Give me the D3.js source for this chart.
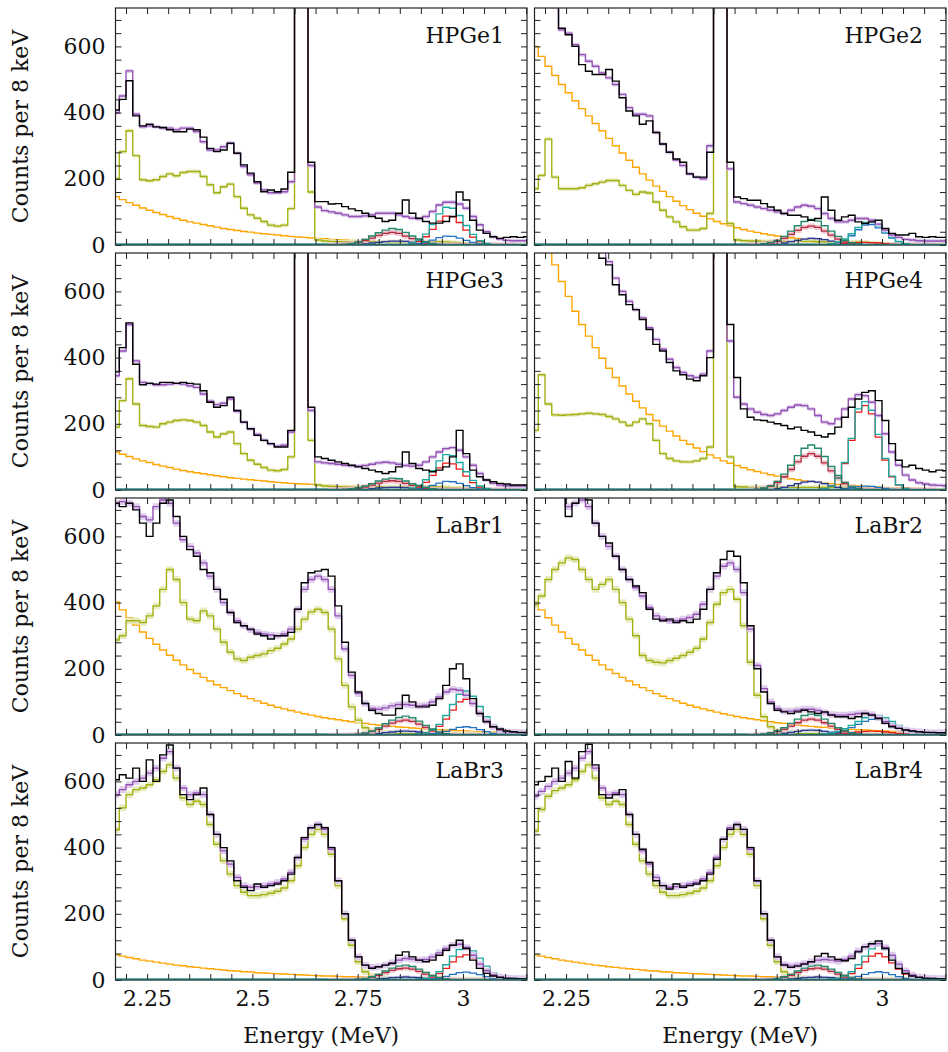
<!DOCTYPE html>
<html><head><meta charset="utf-8">
<script src="https://cdn.jsdelivr.net/npm/d3@7"></script>
<style>body{margin:0;background:#fff}text{font-family:"DejaVu Serif",serif}</style>
</head><body><svg id="c" width="948" height="1052"></svg>
<script>
// ---- grid ----
const binStart = 2.168, binWidth = 0.016, nBins = 62;
const peakStartBin = 32;            // peak-component arrays start at this bin (28 bins)
const xDomain = [2.175, 3.152];
const yDomain = [0, 716];
const xTickValues = [2.25, 2.5, 2.75, 3];
const xTickLabels = ["2.25", "2.5", "2.75", "3"];
const yTickValues = [0, 200, 400, 600];
const panelNames = ["HPGe1","HPGe2","HPGe3","HPGe4","LaBr1","LaBr2","LaBr3","LaBr4"];
const CLIP = 2000; // bins above the plotted range

// ---- HPGe1 ----
const hpge1_data = [408,440,496,390,360,365,357,355,348,342, 342,350,348,326,292,282,287,307,277,242, 217,191,161,166,161,169,220,CLIP,CLIP,250, 131,131,124,125,116,109,104,96,86,81, 71,75,96,136,96,81,71,66,66,71, 86,160,136,75,45,35,25,20,23,25, 23,25];
const hpge1_fit = [400,450,526,395,357,360,357,353,353,348, 353,353,343,312,287,287,297,308,277,237, 212,187,166,158,158,161,191,CLIP,CLIP,240, 115,104,100,96,91,86,86,88,91,96, 96,96,91,86,81,79,86,101,121,129, 129,124,111,86,61,40,25,18,14,13, 13,13];
const hpge1_olive = [200,282,345,270,197,194,197,207,215,209, 219,222,222,207,182,158,176,184,146,111, 91,81,71,60,57,60,110,CLIP,CLIP,160, 15,12,11,10,10,10,10,10,10,10, 10,10,10,10,10,10,10,10,10,9, 8,7,5,3,2,1,0,0,0,0, 0,0];
const hpge1_bkg = [146,137,128,120,112,105,98,92,86,80, 75,70,66,62,58,54,50,47,44,41, 39,36,34,32,30,28,26,24,23,21, 20,19,17,16,15,14,13,13,12,11, 10,10,9,8,8,7,7,7,6,6, 5,5,5,4,4,4,4,3,3,3, 3,3];
const hpge1_green = [0,1,2,5,9,17,27,37,45,50, 47,38,27,18,10,5,2,0,0,0, 0,0,0,0,0,0,0,0];
const hpge1_cyan = [0,0,0,0,0,0,0,0,0,0, 0,1,6,15,33,62,94,114,111,89, 59,32,13,5,1,0,0,0];
const hpge1_darkred = [0,1,2,4,7,13,21,29,35,38, 35,27,19,12,6,3,1,0,0,0, 0,0,0,0,0,0,0,0];
const hpge1_navy = [0,0,0,1,2,4,6,8,10,12, 12,11,8,6,4,2,1,0,0,0, 0,0,0,0,0,0,0,0];
const hpge1_red = [0,0,0,0,0,0,0,0,0,0, 0,1,4,11,25,47,72,87,85,68, 45,24,10,4,1,0,0,0];
const hpge1_blue = [0,0,0,0,0,0,0,0,0,0, 0,0,2,4,8,15,22,27,26,21, 14,8,3,1,0,0,0,0];

// ---- HPGe2 ----
const hpge2_data = [CLIP,CLIP,CLIP,720,655,635,600,545,525,515, 515,530,495,445,405,390,365,375,340,305, 280,260,250,215,205,205,280,CLIP,CLIP,250, 145,140,135,135,125,115,105,95,90,90, 85,75,80,145,105,75,85,90,70,65, 70,75,50,35,30,30,35,25,23,25, 23,23];
const hpge2_fit = [CLIP,CLIP,CLIP,720,650,640,605,575,555,540, 520,505,485,455,415,395,395,390,340,305, 280,257,240,215,205,200,300,CLIP,CLIP,230, 130,125,120,115,110,105,100,95,105,115, 120,117,110,95,80,70,70,75,80,80, 75,63,45,30,23,17,15,13,12,12, 12,12];
const hpge2_olive = [170,210,320,205,170,170,170,173,180,185, 190,195,195,180,165,153,160,157,130,105, 85,70,55,45,45,50,95,CLIP,CLIP,65, 15,13,12,12,11,11,11,11,11,11, 11,11,10,10,10,10,10,9,9,8, 7,6,4,3,2,1,0,0,0,0, 0,0];
const hpge2_bkg = [600,570,540,512,485,460,436,412,390,367, 345,322,300,278,256,235,215,196,178,162, 146,132,119,107,96,87,79,71,64,58, 52,47,42,38,34,30,27,24,22,20, 18,16,14,13,12,11,10,9,8,7, 7,6,6,5,5,4,4,4,3,3, 3,3];
const hpge2_green = [0,1,4,8,14,26,42,58,71,77, 72,58,42,26,14,7,3,1,0,0, 0,0,0,0,0,0,0,0];
const hpge2_cyan = [0,0,0,0,0,0,0,0,0,0, 0,1,4,9,18,34,53,68,69,58, 40,23,11,4,1,0,0,0];
const hpge2_darkred = [0,1,3,6,11,20,32,44,53,57, 53,42,30,18,9,4,2,1,0,0, 0,0,0,0,0,0,0,0];
const hpge2_navy = [0,0,1,2,3,6,10,14,18,20, 19,16,12,8,5,3,1,0,0,0, 0,0,0,0,0,0,0,0];
const hpge2_red = [0,0,0,0,0,0,0,0,0,0, 0,0,1,2,4,6,7,8,7,6, 4,2,1,0,0,0,0,0];
const hpge2_blue = [0,0,0,0,0,0,0,0,0,0, 0,1,3,7,14,28,46,60,62,52, 36,21,10,4,1,0,0,0];

// ---- HPGe3 ----
const hpge3_data = [357,430,505,380,318,322,320,325,325,322, 325,322,320,300,265,250,255,280,240,205, 185,165,150,140,130,130,180,CLIP,CLIP,250, 100,95,90,85,80,75,70,65,60,55, 50,55,70,115,80,65,60,55,60,70, 100,180,110,60,40,30,25,20,18,15, 15,15];
const hpge3_fit = [345,420,500,390,325,322,318,318,320,322, 320,315,310,290,268,258,262,275,238,205, 185,168,150,140,132,135,175,CLIP,CLIP,240, 85,82,80,78,75,73,72,74,78,82, 84,82,78,74,72,75,85,100,115,125, 128,120,100,75,50,30,20,15,13,12, 12,12];
const hpge3_olive = [190,270,336,260,195,192,190,200,205,210, 212,210,205,195,175,160,170,175,140,110, 90,78,68,60,58,62,100,CLIP,CLIP,150, 15,12,11,10,10,10,10,10,10,10, 10,10,10,10,10,10,10,10,9,8, 7,6,5,3,2,1,0,0,0,0, 0,0];
const hpge3_bkg = [115,108,101,94,88,83,77,72,68,63, 59,55,52,49,46,43,40,37,35,33, 31,29,27,25,23,22,20,19,18,17, 16,15,14,13,12,11,10,10,9,9, 8,8,7,7,6,6,5,5,5,4, 4,4,4,3,3,3,3,3,2,2, 2,2];
const hpge3_green = [0,1,2,4,7,12,19,27,33,36, 34,27,19,13,8,4,2,0,0,0, 0,0,0,0,0,0,0,0];
const hpge3_cyan = [0,0,0,0,0,0,0,0,0,0, 0,1,6,14,31,58,88,107,104,83, 55,29,12,5,1,0,0,0];
const hpge3_darkred = [0,1,2,3,5,9,15,21,26,28, 26,20,14,9,5,2,1,0,0,0, 0,0,0,0,0,0,0,0];
const hpge3_navy = [0,0,0,1,2,3,4,6,7,8, 8,7,5,4,3,2,1,0,0,0, 0,0,0,0,0,0,0,0];
const hpge3_red = [0,0,0,0,0,0,0,0,0,0, 0,1,4,10,23,44,67,81,79,63, 42,22,9,4,1,0,0,0];
const hpge3_blue = [0,0,0,0,0,0,0,0,0,0, 0,0,2,4,8,14,21,26,25,20, 13,7,3,1,0,0,0,0];

// ---- HPGe4 ----
const hpge4_data = [CLIP,CLIP,CLIP,CLIP,CLIP,CLIP,CLIP,CLIP,CLIP,CLIP, 700,680,620,590,560,545,515,485,440,420, 385,360,348,335,330,345,400,CLIP,CLIP,500, 340,245,220,212,210,205,200,195,185,190, 180,175,165,160,170,190,220,250,275,295, 300,270,210,140,90,70,75,65,60,55, 60,58];
const hpge4_fit = [CLIP,CLIP,CLIP,CLIP,CLIP,CLIP,CLIP,CLIP,CLIP,CLIP, 720,690,640,600,570,545,520,490,455,425, 395,370,355,345,340,350,420,CLIP,CLIP,450, 280,260,245,235,228,225,230,240,250,257, 255,245,225,205,200,215,245,275,288,285, 265,225,170,115,75,45,30,22,18,15, 14,13];
const hpge4_olive = [180,348,260,227,226,227,228,230,232,230, 228,222,215,205,195,205,215,200,150,110, 95,88,85,85,88,95,130,CLIP,CLIP,100, 10,9,8,8,8,8,8,8,8,8, 8,8,8,8,8,8,8,7,7,6, 5,4,3,2,1,1,0,0,0,0, 0,0];
const hpge4_bkg = [850,790,735,680,630,585,540,500,465,430, 398,368,340,314,290,268,248,228,210,193, 178,163,150,138,127,116,106,97,88,81, 74,67,61,56,51,46,42,38,34,31, 28,25,23,21,19,17,15,14,12,11, 10,9,8,7,7,6,5,5,4,4, 4,3];
const hpge4_green = [0,2,6,13,26,48,75,104,126,136, 126,101,71,44,23,11,5,1,0,0, 0,0,0,0,0,0,0,0];
const hpge4_cyan = [0,0,0,0,0,0,0,0,0,0, 0,4,12,36,83,156,245,267,241,168, 95,42,16,5,1,0,0,0];
const hpge4_darkred = [0,2,5,11,22,40,62,85,102,110, 102,82,58,36,19,9,4,1,0,0, 0,0,0,0,0,0,0,0];
const hpge4_navy = [0,0,1,2,4,8,13,19,24,26, 24,19,13,8,4,2,1,0,0,0, 0,0,0,0,0,0,0,0];
const hpge4_red = [0,0,0,0,0,0,0,0,0,0, 0,4,12,35,80,150,235,255,230,160, 90,40,15,5,1,0,0,0];
const hpge4_blue = [0,0,0,0,0,0,0,0,0,0, 0,0,0,1,3,6,10,12,11,8, 5,2,1,0,0,0,0,0];

// ---- LaBr1 ----
const labr1_data = [700,690,700,680,640,600,640,700,710,660, 600,560,540,500,490,440,410,370,340,330, 320,305,300,290,300,300,310,380,460,490, 495,500,480,390,280,190,130,95,75,65, 60,60,80,120,100,85,85,90,110,150, 200,215,170,110,65,40,25,18,12,10, 8,8];
const labr1_fit = [700,705,700,690,660,650,690,710,700,640, 590,570,550,520,480,440,400,370,345,330, 318,310,305,302,300,305,320,380,440,470, 480,470,440,360,260,180,125,95,80,78, 82,88,92,92,90,88,90,100,115,130, 138,135,120,95,65,42,25,15,10,8, 7,6];
const labr1_olive = [287,300,345,345,340,360,390,440,500,470, 400,350,345,375,360,320,280,250,230,225, 235,240,245,255,262,275,290,320,350,372, 380,370,320,230,150,85,45,22,12,8, 6,5,5,4,4,3,3,3,2,2, 2,1,1,1,0,0,0,0,0,0, 0,0];
const labr1_bkg = [402,378,354,332,311,292,274,257,241,226, 212,198,186,174,163,152,143,134,125,117, 110,103,96,90,84,79,74,69,64,60, 56,52,49,46,43,40,37,35,32,30, 28,26,24,23,21,20,18,17,16,15, 14,13,12,11,10,9,9,8,7,7, 6,6];
const labr1_green = [0,0,0,1,2,6,12,21,34,45, 53,57,52,42,29,18,9,4,1,0, 0,0,0,0,0,0,0,0];
const labr1_cyan = [0,0,0,0,0,0,0,0,0,0, 0,0,1,3,6,15,32,59,92,123, 133,117,86,55,29,12,5,1];
const labr1_darkred = [0,0,0,1,2,5,10,17,27,36, 42,45,41,33,23,14,7,3,1,0, 0,0,0,0,0,0,0,0];
const labr1_navy = [0,0,0,0,0,1,2,4,7,9, 11,12,11,9,6,4,2,1,0,0, 0,0,0,0,0,0,0,0];
const labr1_red = [0,0,0,0,0,0,0,0,0,0, 0,0,1,2,5,12,26,48,75,100, 108,95,70,45,24,10,4,1];
const labr1_blue = [0,0,0,0,0,0,0,0,0,0, 0,0,0,1,1,3,6,11,17,23, 25,22,16,10,5,2,1,0];

// ---- LaBr2 ----
const labr2_data = [CLIP,CLIP,CLIP,CLIP,720,660,700,720,710,640, 600,580,540,500,470,450,430,380,350,345, 350,340,345,340,350,380,440,490,530,555, 540,460,330,200,130,95,75,70,65,70, 75,70,65,70,60,55,55,50,55,65, 60,50,35,25,20,15,12,10,8,8, 7,7];
const labr2_fit = [CLIP,CLIP,CLIP,CLIP,740,690,700,710,690,640, 600,570,540,500,470,445,420,385,360,350, 345,345,350,355,365,395,440,480,510,520, 500,430,320,210,140,100,80,72,72,75, 78,78,74,68,62,60,60,62,65,66, 62,52,40,28,20,15,12,10,8,7, 7,6];
const labr2_olive = [393,420,470,500,520,535,530,500,470,440, 455,470,440,400,350,300,240,225,220,218, 225,232,240,250,262,290,340,395,430,440, 410,330,220,120,55,25,12,8,6,5, 4,4,3,3,3,2,2,2,1,1, 1,1,0,0,0,0,0,0,0,0, 0,0];
const labr2_bkg = [402,378,354,332,311,292,274,257,241,226, 212,198,186,174,163,152,143,134,125,117, 110,103,96,90,84,79,74,69,64,60, 56,52,49,46,43,40,37,35,32,30, 28,26,24,23,21,20,18,17,16,15, 14,13,12,11,10,9,9,8,7,7, 6,6];
const labr2_green = [0,1,3,7,13,22,35,48,59,63, 59,48,35,22,13,7,3,1,0,0, 0,0,0,0,0,0,0,0];
const labr2_cyan = [0,0,0,0,0,0,0,0,0,0, 0,3,6,11,19,29,41,52,59,59, 52,41,29,18,10,5,2,1];
const labr2_darkred = [0,1,2,5,10,17,27,37,45,48, 45,37,27,17,10,5,2,1,0,0, 0,0,0,0,0,0,0,0];
const labr2_navy = [0,0,1,2,3,5,8,11,14,15, 14,11,8,5,3,2,1,0,0,0, 0,0,0,0,0,0,0,0];
const labr2_red = [0,0,0,0,0,0,0,0,0,0, 0,1,2,3,5,7,9,11,12,11, 9,7,5,3,2,1,0,0];
const labr2_blue = [0,0,0,0,0,0,0,0,0,0, 0,2,4,8,14,22,32,41,47,48, 43,34,24,15,8,4,2,1];

// ---- LaBr3 ----
const labr3_data = [605,620,610,640,600,665,600,680,710,640, 560,545,560,580,500,440,400,360,300,280, 270,290,280,285,290,300,320,370,430,460, 470,460,400,300,200,120,70,45,35,40, 45,50,75,85,70,60,55,60,75,90, 105,120,95,60,35,20,12,8,5,5, 4,4];
const labr3_fit = [560,575,590,600,610,625,640,670,690,640, 580,560,565,560,500,440,390,350,310,285, 280,282,285,290,295,305,325,370,425,460, 470,455,395,300,200,120,70,45,38,40, 45,52,60,65,63,60,62,70,82,95, 105,108,98,75,48,28,15,9,6,5, 4,4];
const labr3_olive = [454,520,560,575,580,590,605,630,650,610, 550,530,540,530,470,410,360,320,285,265, 255,255,258,262,268,278,300,345,400,440, 455,440,380,285,185,105,55,25,12,6, 4,3,2,2,1,1,1,1,1,0, 0,0,0,0,0,0,0,0,0,0, 0,0];
const labr3_bkg = [76,72,68,64,60,57,54,51,48,45, 43,40,38,36,34,32,30,28,27,25, 24,22,21,20,19,18,17,16,15,14, 13,12,12,11,10,10,9,9,8,8, 7,7,6,6,6,5,5,5,4,4, 4,4,3,3,3,3,3,2,2,2, 2,2];
const labr3_green = [0,0,0,1,2,5,10,17,27,36, 42,45,41,33,23,14,8,3,1,0, 0,0,0,0,0,0,0,0];
const labr3_cyan = [0,0,0,0,0,0,0,0,0,0, 0,0,1,3,5,12,25,46,72,92, 100,88,66,42,22,9,4,1];
const labr3_darkred = [0,0,0,1,2,4,8,14,22,29, 34,36,33,26,18,11,6,2,1,0, 0,0,0,0,0,0,0,0];
const labr3_navy = [0,0,0,0,0,1,2,3,5,7, 8,9,8,7,5,3,2,1,0,0, 0,0,0,0,0,0,0,0];
const labr3_red = [0,0,0,0,0,0,0,0,0,0, 0,0,1,2,4,9,19,35,55,70, 76,67,50,32,17,7,3,1];
const labr3_blue = [0,0,0,0,0,0,0,0,0,0, 0,0,0,1,1,3,6,11,17,22, 24,21,16,10,5,2,1,0];

// ---- LaBr4 ----
const labr4_data = [590,600,615,640,600,660,610,690,712,650, 560,550,560,575,500,440,395,355,300,285, 275,290,280,285,290,300,320,365,425,455, 470,455,400,300,200,120,70,45,38,42, 48,55,72,80,70,62,58,65,85,100, 110,118,95,60,35,20,12,8,5,5, 4,4];
const labr4_fit = [555,570,585,600,610,625,640,670,690,640, 580,560,565,560,500,440,390,350,310,285, 280,282,285,290,295,305,325,370,425,460, 470,455,395,300,200,120,70,47,42,45, 50,55,60,62,60,57,62,72,88,100, 108,110,98,75,48,28,15,9,6,5, 4,4];
const labr4_olive = [450,515,555,572,580,590,605,630,650,610, 550,530,540,530,470,410,360,320,285,265, 255,255,258,262,268,278,300,345,400,440, 455,440,380,285,185,105,55,25,12,6, 4,3,2,2,1,1,1,1,1,0, 0,0,0,0,0,0,0,0,0,0, 0,0];
const labr4_bkg = [76,72,68,64,60,57,54,51,48,45, 43,40,38,36,34,32,30,28,27,25, 24,22,21,20,19,18,17,16,15,14, 13,12,12,11,10,10,9,9,8,8, 7,7,6,6,6,5,5,5,4,4, 4,4,3,3,3,3,3,2,2,2, 2,2];
const labr4_green = [0,0,1,2,5,10,17,27,36,42, 45,41,33,23,14,8,3,1,0,0, 0,0,0,0,0,0,0,0];
const labr4_cyan = [0,0,0,0,0,0,0,0,0,0, 0,1,3,5,12,25,46,72,94,105, 92,68,43,23,10,4,1,0];
const labr4_darkred = [0,0,1,2,4,8,14,22,29,34, 36,33,26,18,11,6,2,1,0,0, 0,0,0,0,0,0,0,0];
const labr4_navy = [0,0,0,0,1,2,3,5,7,8, 9,8,7,5,3,2,1,0,0,0, 0,0,0,0,0,0,0,0];
const labr4_red = [0,0,0,0,0,0,0,0,0,0, 0,1,2,4,9,19,35,55,72,80, 70,52,33,18,8,3,1,0];
const labr4_blue = [0,0,0,0,0,0,0,0,0,0, 0,0,1,1,3,6,11,17,22,25, 22,16,10,5,2,1,0,0];

// ---- assemble ----
const series = {
  HPGe1: [hpge1_data, hpge1_fit, hpge1_olive, hpge1_bkg, hpge1_green, hpge1_cyan, hpge1_darkred, hpge1_navy, hpge1_red, hpge1_blue],
  HPGe2: [hpge2_data, hpge2_fit, hpge2_olive, hpge2_bkg, hpge2_green, hpge2_cyan, hpge2_darkred, hpge2_navy, hpge2_red, hpge2_blue],
  HPGe3: [hpge3_data, hpge3_fit, hpge3_olive, hpge3_bkg, hpge3_green, hpge3_cyan, hpge3_darkred, hpge3_navy, hpge3_red, hpge3_blue],
  HPGe4: [hpge4_data, hpge4_fit, hpge4_olive, hpge4_bkg, hpge4_green, hpge4_cyan, hpge4_darkred, hpge4_navy, hpge4_red, hpge4_blue],
  LaBr1: [labr1_data, labr1_fit, labr1_olive, labr1_bkg, labr1_green, labr1_cyan, labr1_darkred, labr1_navy, labr1_red, labr1_blue],
  LaBr2: [labr2_data, labr2_fit, labr2_olive, labr2_bkg, labr2_green, labr2_cyan, labr2_darkred, labr2_navy, labr2_red, labr2_blue],
  LaBr3: [labr3_data, labr3_fit, labr3_olive, labr3_bkg, labr3_green, labr3_cyan, labr3_darkred, labr3_navy, labr3_red, labr3_blue],
  LaBr4: [labr4_data, labr4_fit, labr4_olive, labr4_bkg, labr4_green, labr4_cyan, labr4_darkred, labr4_navy, labr4_red, labr4_blue]
};
const keys = ["data","fit","olive","bkg","green","cyan","darkred","navy","red","blue"];
const panels = panelNames.map(n => {
  const o = {name: n, la: n.startsWith("LaBr")};
  keys.forEach((k, i) => o[k] = series[n][i]);
  return o;
});

// ---- drawing ----
const svg = d3.select("#c");
const colX = [115.5, 534.5], rowY = [8, 253, 498, 743];
const pw = 411.5, ph = 237;
const x = d3.scaleLinear().domain(xDomain).range([0, pw]);
const y = d3.scaleLinear().domain(yDomain).range([ph, 0]);
const edges = d3.range(nBins + 1).map(i => binStart + i * binWidth);

const C = {
  data: "#000000", fit: "#9552b5", fitBand: "#dcc8ea", olive: "#a3b012", oliveBand: "#e3e9b9",
  bkg: "#ffa500", green: "#22886a", cyan: "#1eaaa0", darkred: "#b42a40", darkredBand: "#efbcc4",
  navy: "#2c3a8e", navyBand: "#c8cbea", red: "#f01818", blue: "#2172c2", base: "#1f6c6c"
};

function pts(vals, start) {
  const p = vals.map((v, i) => [edges[start + i], v]);
  p.push([edges[start + vals.length], vals[vals.length - 1]]);
  return p;
}
const line = d3.line().x(d => x(d[0])).y(d => y(d[1])).curve(d3.curveStepAfter);
const bandArea = h => d3.area().x(d => x(d[0])).y0(d => y(Math.max(0, d[1] - h))).y1(d => y(d[1] + h)).curve(d3.curveStepAfter);

const xMinor = d3.range(0, 20).map(i => +(2.2 + i * 0.05).toFixed(2)).filter(v => v <= xDomain[1]);
const yMinor = d3.range(0, 18).map(i => i * 40).filter(v => v <= yDomain[1]);

panels.forEach((P, idx) => {
  const col = idx % 2, row = Math.floor(idx / 2);
  const g = svg.append("g").attr("transform", `translate(${colX[col]},${rowY[row]})`);
  const cid = "clip" + idx;
  g.append("clipPath").attr("id", cid).append("rect").attr("width", pw).attr("height", ph);
  const pg = g.append("g").attr("clip-path", `url(#${cid})`);
  const stroke = (vals, start, color, w) => pg.append("path").attr("d", line(pts(vals, start)))
    .attr("fill", "none").attr("stroke", color).attr("stroke-width", w);
  const band = (vals, start, h, color, op) => pg.append("path").attr("d", bandArea(h)(pts(vals, start)))
    .attr("fill", color).attr("opacity", op);

  const bw = P.la ? 10 : 6;
  pg.append("line").attr("x1", 0).attr("x2", pw).attr("y1", y(0)).attr("y2", y(0))
    .attr("stroke", C.base).attr("stroke-width", 3);
  stroke(P.bkg, 0, C.bkg, 1.4);
  band(P.olive, 0, bw, C.oliveBand, 0.9);
  stroke(P.olive, 0, C.olive, 1.4);
  band(P.navy, peakStartBin, P.la ? 5 : 4, C.navyBand, 0.8);
  stroke(P.navy, peakStartBin, C.navy, 1.3);
  band(P.darkred, peakStartBin, P.la ? 7 : 8, C.darkredBand, 0.8);
  stroke(P.darkred, peakStartBin, C.darkred, 1.3);
  stroke(P.blue, peakStartBin, C.blue, 1.3);
  stroke(P.red, peakStartBin, C.red, 1.3);
  stroke(P.cyan, peakStartBin, C.cyan, 1.4);
  stroke(P.green, peakStartBin, C.green, 1.4);
  band(P.fit, 0, bw, C.fitBand, 0.9);
  stroke(P.fit, 0, C.fit, 1.4);
  stroke(P.data, 0, C.data, 1.4);

  const tl = 6;
  const bottom = d3.axisBottom(x).tickValues(xMinor).tickSize(-tl).tickPadding(10)
    .tickFormat(d => { const i = xTickValues.findIndex(v => Math.abs(v - d) < 1e-6); return (row === 3 && i >= 0) ? xTickLabels[i] : ""; });
  const top = d3.axisTop(x).tickValues(xMinor).tickSize(-tl).tickFormat("");
  const left = d3.axisLeft(y).tickValues(yMinor).tickSize(-tl).tickPadding(10)
    .tickFormat(d => (col === 0 && yTickValues.includes(d)) ? String(d) : "");
  const right = d3.axisRight(y).tickValues(yMinor).tickSize(-tl).tickFormat("");
  const axStyle = a => { a.select(".domain").remove(); a.selectAll("line").attr("stroke", "#222").attr("stroke-width", 1);
    a.selectAll("text").attr("font-family", "DejaVu Serif").attr("font-size", 22).attr("fill", "#111"); };
  g.append("g").attr("transform", `translate(0,${ph})`).call(bottom).call(axStyle);
  g.append("g").call(top).call(axStyle);
  g.append("g").call(left).call(axStyle);
  g.append("g").attr("transform", `translate(${pw},0)`).call(right).call(axStyle);
  g.append("rect").attr("width", pw).attr("height", ph).attr("fill", "none").attr("stroke", "#222").attr("stroke-width", 1.2);
  g.append("line").attr("x1", 0).attr("x2", pw).attr("y1", ph - 0.5).attr("y2", ph - 0.5).attr("stroke", C.base).attr("stroke-width", 1.6);

  g.append("text").attr("x", pw - 23).attr("y", 35).attr("text-anchor", "end")
    .attr("font-size", 22).attr("fill", "#111").text(P.name);
});

rowY.forEach(ry => {
  svg.append("text").attr("transform", `translate(28,${ry + ph / 2}) rotate(-90)`)
    .attr("text-anchor", "middle").attr("font-size", 22).attr("fill", "#111").text("Counts per 8 keV");
});
colX.forEach(cx => {
  svg.append("text").attr("x", cx + pw / 2).attr("y", 1043).attr("text-anchor", "middle")
    .attr("font-size", 22).attr("fill", "#111").text("Energy (MeV)");
});
</script>
</body></html>
